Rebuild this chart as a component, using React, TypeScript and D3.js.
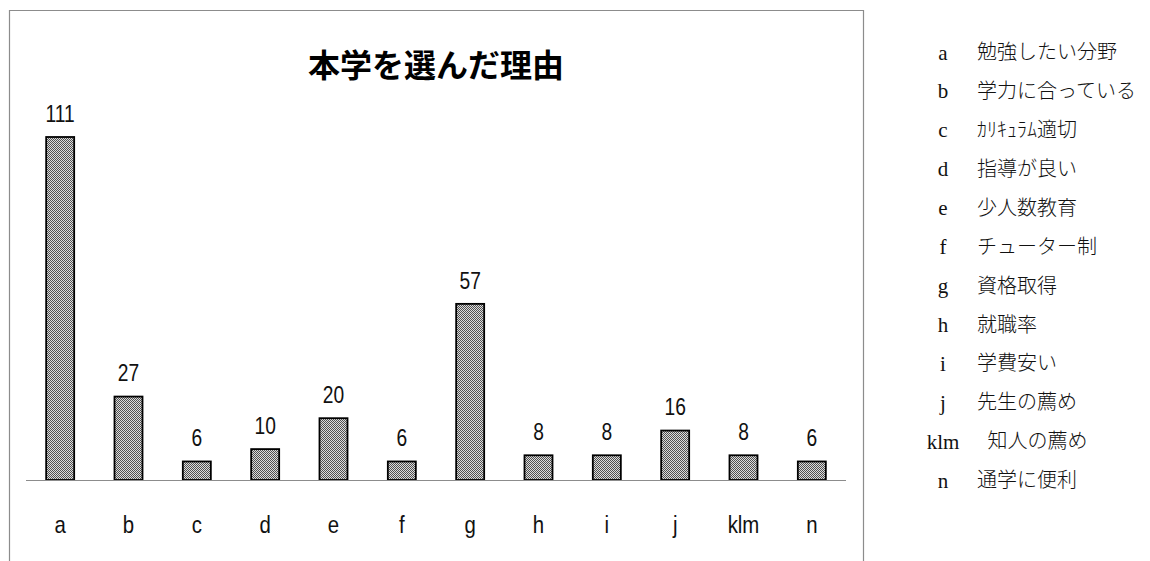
import * as d3 from "d3";
import * as React from "react";

const categories = ["a", "b", "c", "d", "e", "f", "g", "h", "i", "j", "klm", "n"];
const counts = [111, 27, 6, 10, 20, 6, 57, 8, 8, 16, 8, 6];
const legendKeys = ["a", "b", "c", "d", "e", "f", "g", "h", "i", "j", "klm", "n"];
const legendLabels = [
  "勉強したい分野",
  "学力に合っている",
  "ｶﾘｷｭﾗﾑ適切",
  "指導が良い",
  "少人数教育",
  "チューター制",
  "資格取得",
  "就職率",
  "学費安い",
  "先生の薦め",
  "知人の薦め",
  "通学に便利",
];
const title = "本学を選んだ理由";

const W = 1150;
const H = 561;
const gothic = '"Liberation Sans", Arial, sans-serif';

export default function App() {
  const ref = React.useRef<SVGSVGElement>(null);

  React.useEffect(() => {
    const svg = d3.select(ref.current);
    svg.selectAll("*").remove();

    // checkered fill like the old excel pattern
    const pat = svg
      .append("defs")
      .append("pattern")
      .attr("id", "chk")
      .attr("width", 2)
      .attr("height", 2)
      .attr("patternUnits", "userSpaceOnUse");
    pat.append("rect").attr("width", 2).attr("height", 2).attr("fill", "#dcdcdc");
    pat.append("rect").attr("width", 1).attr("height", 1).attr("fill", "#505050");
    pat.append("rect").attr("x", 1).attr("y", 1).attr("width", 1).attr("height", 1).attr("fill", "#505050");

    // chart frame (runs off the bottom of the page)
    svg
      .append("path")
      .attr("d", "M9.5,600 V10.5 H863.5 V600")
      .attr("fill", "none")
      .attr("stroke", "#8c8c8c")
      .attr("stroke-width", 1.2);

    const x = d3
      .scaleBand<string>()
      .domain(categories)
      .range([26, 846])
      .paddingInner(0.59)
      .paddingOuter(0.295);

    const y = d3.scaleLinear().domain([0, 111]).range([480, 137]);

    svg
      .append("text")
      .attr("x", 436)
      .attr("y", 65)
      .attr("dy", "0.36em")
      .attr("text-anchor", "middle")
      .attr("font-family", '"Noto Sans CJK JP", sans-serif')
      .attr("font-weight", 700)
      .attr("font-size", 32)
      .text(title);

    const data = categories.map((c, i) => ({ c, v: counts[i] }));

    svg
      .append("g")
      .selectAll("rect")
      .data(data)
      .enter()
      .append("rect")
      .attr("x", (d) => x(d.c)!)
      .attr("y", (d) => y(d.v))
      .attr("width", x.bandwidth())
      .attr("height", (d) => y(0) - y(d.v))
      .attr("fill", "url(#chk)")
      .attr("stroke", "#000")
      .attr("stroke-width", 1.8);

    svg
      .append("line")
      .attr("x1", x.range()[0])
      .attr("x2", x.range()[1])
      .attr("y1", y(0) + 0.5)
      .attr("y2", y(0) + 0.5)
      .attr("stroke", "#8c8c8c")
      .attr("stroke-width", 1.2);

    // value labels, squeezed to look like the narrow gothic digits
    svg
      .append("g")
      .selectAll("text")
      .data(data)
      .enter()
      .append("text")
      .attr(
        "transform",
        (d) => `translate(${x(d.c)! + x.bandwidth() / 2},${y(d.v) - 24}) scale(0.8,1)`
      )
      .attr("dy", "0.36em")
      .attr("text-anchor", "middle")
      .attr("font-family", gothic)
      .attr("font-size", 24)
      .attr("fill", "#111")
      .text((d) => d.v);

    svg
      .append("g")
      .selectAll("text")
      .data(categories)
      .enter()
      .append("text")
      .attr("transform", (d) => `translate(${x(d)! + x.bandwidth() / 2},524) scale(0.85,1)`)
      .attr("dy", "0.36em")
      .attr("text-anchor", "middle")
      .attr("font-family", gothic)
      .attr("font-size", 24)
      .attr("fill", "#111")
      .text((d) => d);

    // legend on the right
    const ly = d3.scalePoint<string>().domain(legendKeys).range([52, 480]);
    const lg = svg.append("g");
    legendKeys.forEach((k, i) => {
      const keyW = k.length * 11;
      lg.append("text")
        .attr("x", 943)
        .attr("y", ly(k)!)
        .attr("dy", "0.36em")
        .attr("text-anchor", "middle")
        .attr("font-family", '"Liberation Serif", "DejaVu Serif", serif')
        .attr("font-size", 21)
        .attr("fill", "#111")
        .text(k);
      lg.append("text")
        .attr("x", Math.max(977, 943 + keyW / 2 + 28))
        .attr("y", ly(k)!)
        .attr("dy", "0.36em")
        .attr("font-family", '"Noto Sans CJK JP", sans-serif')
        .attr("font-weight", 300)
        .attr("font-size", 20)
        .attr("fill", "#111")
        .text(legendLabels[i]);
    });
  }, []);

  return (
    <svg
      ref={ref}
      width={W}
      height={H}
      style={{ position: "absolute", left: 0, top: 0, background: "#fff" }}
    />
  );
}
